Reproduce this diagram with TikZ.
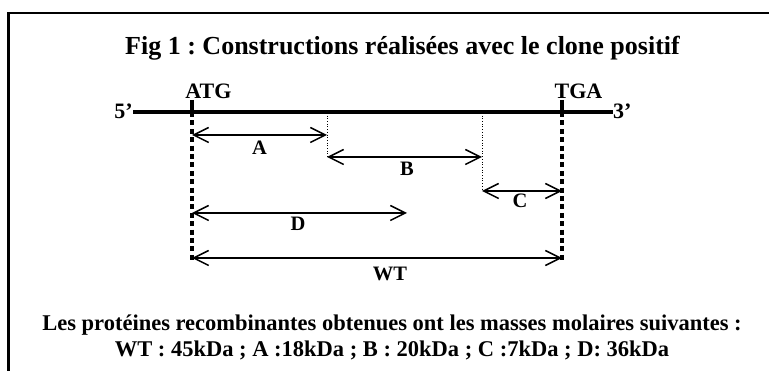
\documentclass[tikz,border=0pt]{standalone}
\usepackage{fontspec}
\setmainfont{Liberation Serif}
\frenchspacing
\usetikzlibrary{arrows.meta}
\tikzset{
  lbl/.style={font=\bfseries\fontsize{20.5}{20.5}\selectfont, inner sep=0pt, anchor=base},
  codon/.style={font=\bfseries\fontsize{22}{22}\selectfont, inner sep=0pt, anchor=base},
  captxt/.style={font=\bfseries\fontsize{22.5}{22.5}\selectfont, inner sep=0pt, anchor=base},
  dim/.style={line width=1.5pt, {Straight Barb[length=15pt,width=15pt,line width=1.5pt]}-{Straight Barb[length=15pt,width=15pt,line width=1.5pt]}},
  cut/.style={line width=4.5pt, dash pattern=on 5pt off 3.4pt},
  guide/.style={line width=0.7pt, dotted},
}
\begin{document}
\begin{tikzpicture}[x=1pt,y=-1pt]
\useasboundingbox (0,0) rectangle (769,371);
% frame
\draw[line width=2.2pt] (8.5,380) -- (8.5,13) -- (780,13);
% title
\node[font=\bfseries\fontsize{26}{26}\selectfont, inner sep=0pt, anchor=base] (title) at (402.5,55) {Fig 1 : Constructions réalisées avec le clone positif};
% gene line
\coordinate (g5) at (133,112);
\coordinate (g3) at (613,112);
\draw[line width=3.3pt] (g5) -- (g3);
\node[codon, anchor=base east] (five) at (133,119) {5’};
\node[codon, anchor=base west] (three) at (613,119) {3’};
% codons
\coordinate (atgTop) at (192,100);
\coordinate (atgLine) at (192,112);
\coordinate (atgBot) at (192,262);
\coordinate (tgaTop) at (562,100);
\coordinate (tgaLine) at (562,112);
\coordinate (tgaBot) at (562,262);
\draw[line width=4.5pt] (atgTop) -- (atgLine);
\draw[line width=4.5pt] (tgaTop) -- (tgaLine);
\draw[cut] (atgLine) -- (atgBot);
\draw[cut] (tgaLine) -- (tgaBot);
\node[codon] (atg) at (208.5,98.5) {ATG};
\node[codon] (tga) at (578.5,98.5) {TGA};
% points
\coordinate (a0) at (192,135);
\coordinate (a1) at (327,135);
\coordinate (b0) at (327,157);
\coordinate (b1) at (482,157);
\coordinate (c0) at (482,191);
\coordinate (c1) at (562,191);
\coordinate (d0) at (192,213);
\coordinate (d1) at (407,213);
\coordinate (w0) at (192,258);
\coordinate (w1) at (562,258);
\coordinate (gB) at (327,113);
\coordinate (gC) at (482,113);
\draw[guide] (gB) -- (b0);
\draw[guide] (gC) -- (c0);
\draw[dim] (a0) -- (a1);
\draw[dim] (b0) -- (b1);
\draw[dim] (c0) -- (c1);
\draw[dim] (d0) -- (d1);
\draw[dim] (w0) -- (w1);
\node[lbl] (la) at (259.5,155) {A};
\node[lbl] (lb) at (407,176) {B};
\node[lbl] (lc) at (520,208) {C};
\node[lbl] (ld) at (298,231) {D};
\node[lbl] (lw) at (390,281) {WT};
% caption
\node[captxt] (cap1) at (392,331) {Les protéines recombinantes obtenues ont les masses molaires suivantes :};
\node[captxt] (cap2) at (392,357) {WT : 45kDa ; A :18kDa ; B : 20kDa ; C :7kDa ; D: 36kDa};
\end{tikzpicture}
\end{document}
